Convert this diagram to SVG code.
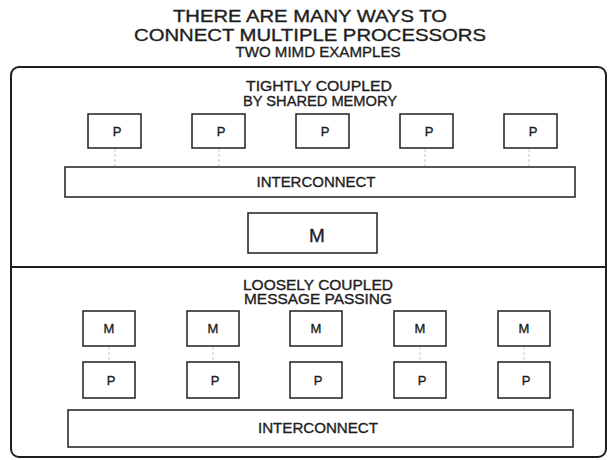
<svg xmlns="http://www.w3.org/2000/svg" width="610" height="460" viewBox="0 0 610 460">
<style>
text{font-family:"Liberation Sans",Arial,sans-serif;fill:#1e1e1e;stroke:#1e1e1e;stroke-width:0.35;text-anchor:middle}
.title{font-size:17px}
.sub{font-size:14.5px}
.head{font-size:14.5px}
.head2{font-size:14px}
.lbl{font-size:13px}
.big{font-size:19px}
.box{fill:#fff;stroke:#1e1e1e;stroke-width:1.5}
.frame{fill:none;stroke:#1e1e1e;stroke-width:2}
.conn{stroke:#c8c8c8;stroke-width:1;stroke-dasharray:3 2}
</style>
<rect width="610" height="460" fill="#fff"/>
<g id="title">
<text class="title" x="310" y="22" textLength="274" lengthAdjust="spacingAndGlyphs">THERE ARE MANY WAYS TO</text>
<text class="title" x="310" y="40.5" textLength="352" lengthAdjust="spacingAndGlyphs">CONNECT MULTIPLE PROCESSORS</text>
<text class="sub" x="318" y="57" textLength="165" lengthAdjust="spacingAndGlyphs">TWO MIMD EXAMPLES</text>
</g>
<g id="frame">
<rect class="frame" x="11" y="67" width="595" height="390" rx="8"/>
<line class="frame" x1="11" y1="267" x2="606" y2="267"/>
</g>
<g id="connectors">
<line class="conn" x1="115" y1="149" x2="115" y2="166"/>
<line class="conn" x1="219" y1="149" x2="219" y2="166"/>
<line class="conn" x1="425" y1="149" x2="425" y2="166"/>
<line class="conn" x1="529" y1="149" x2="529" y2="166"/>
<line class="conn" x1="109" y1="347" x2="109" y2="361"/>
<line class="conn" x1="213" y1="347" x2="213" y2="361"/>
<line class="conn" x1="420" y1="347" x2="420" y2="361"/>
<line class="conn" x1="524" y1="347" x2="524" y2="361"/>
</g>
<g id="tight-heading">
<text class="head" x="319" y="91" textLength="146" lengthAdjust="spacingAndGlyphs">TIGHTLY COUPLED</text>
<text class="head" x="320" y="106" textLength="154" lengthAdjust="spacingAndGlyphs">BY SHARED MEMORY</text>
</g>
<g id="tp1"><rect class="box" x="88" y="114" width="53" height="34"/><text class="lbl" x="117" y="136">P</text></g>
<g id="tp2"><rect class="box" x="192" y="114" width="53" height="34"/><text class="lbl" x="221" y="136">P</text></g>
<g id="tp3"><rect class="box" x="296" y="114" width="53" height="34"/><text class="lbl" x="325" y="136">P</text></g>
<g id="tp4"><rect class="box" x="400" y="114" width="53" height="34"/><text class="lbl" x="429" y="136">P</text></g>
<g id="tp5"><rect class="box" x="504" y="114" width="53" height="34"/><text class="lbl" x="533" y="136">P</text></g>
<g id="t-interconnect"><rect class="box" x="65" y="167" width="510" height="30"/><text class="sub" x="316" y="187" textLength="119" lengthAdjust="spacingAndGlyphs">INTERCONNECT</text></g>
<g id="t-memory"><rect class="box" x="248" y="213" width="129" height="40"/><text class="big" x="317" y="242">M</text></g>
<g id="loose-heading">
<text class="head2" x="318" y="289.5" textLength="150" lengthAdjust="spacingAndGlyphs">LOOSELY COUPLED</text>
<text class="head2" x="318" y="304" textLength="148" lengthAdjust="spacingAndGlyphs">MESSAGE PASSING</text>
</g>
<g id="lm1"><rect class="box" x="83" y="311" width="52" height="35"/><text class="lbl" x="109" y="333">M</text></g>
<g id="lm2"><rect class="box" x="187" y="311" width="52" height="35"/><text class="lbl" x="213" y="333">M</text></g>
<g id="lm3"><rect class="box" x="290" y="311" width="52" height="35"/><text class="lbl" x="316" y="333">M</text></g>
<g id="lm4"><rect class="box" x="394" y="311" width="52" height="35"/><text class="lbl" x="420" y="333">M</text></g>
<g id="lm5"><rect class="box" x="498" y="311" width="52" height="35"/><text class="lbl" x="524" y="333">M</text></g>
<g id="lp1"><rect class="box" x="83" y="362" width="52" height="36"/><text class="lbl" x="111" y="385">P</text></g>
<g id="lp2"><rect class="box" x="187" y="362" width="52" height="36"/><text class="lbl" x="215" y="385">P</text></g>
<g id="lp3"><rect class="box" x="290" y="362" width="52" height="36"/><text class="lbl" x="318" y="385">P</text></g>
<g id="lp4"><rect class="box" x="394" y="362" width="52" height="36"/><text class="lbl" x="422" y="385">P</text></g>
<g id="lp5"><rect class="box" x="498" y="362" width="52" height="36"/><text class="lbl" x="526" y="385">P</text></g>
<g id="l-interconnect"><rect class="box" x="68" y="410" width="505" height="37"/><text class="sub" x="318" y="433" textLength="120" lengthAdjust="spacingAndGlyphs">INTERCONNECT</text></g>
</svg>
